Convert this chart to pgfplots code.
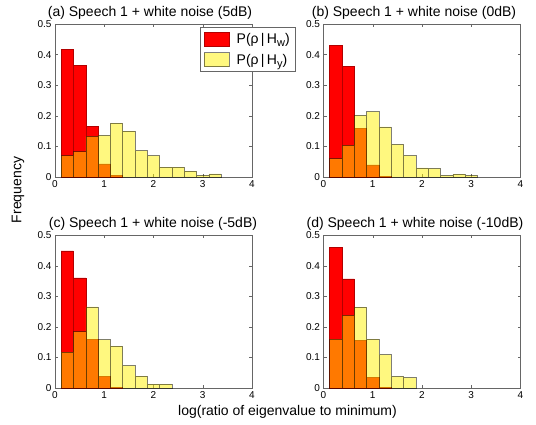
\documentclass[border=0pt]{standalone}
\usepackage{pgfplots}
\pgfplotsset{compat=1.18}
\usepackage{fontspec}
\setmainfont{Liberation Sans}
\newcommand{\sub}[1]{\raisebox{-3pt}{\fontsize{11}{12}\selectfont #1}}
\begin{document}
\begin{tikzpicture}
\useasboundingbox (0pt,0pt) rectangle (536pt,424pt);
\pgfplotsset{
  panel/.style={
    scale only axis, width=197pt, height=153pt,
    xmin=0,xmax=4,ymin=0,ymax=0.5,
    xtick={0,1,2,3,4}, ytick={0,0.1,0.2,0.3,0.4,0.5},
    tick align=inside, major tick length=3pt,
    axis line style={black!60}, tick style={black!60},
    ticklabel style={font=\fontsize{10}{12}\selectfont},
    /pgf/number format/assume math mode=true,
    anchor=south west,
  },
  hw/.style={ybar interval, fill=red, draw=red!70!black, line width=0.5pt,
    legend image code/.code={\draw[fill=red, draw=red!70!black] (0pt,-7pt) rectangle (25pt,7pt);}},
  hy/.style={ybar interval, fill=yellow, draw=black, opacity=0.5, line width=0.5pt,
    legend image code/.code={\draw[fill=yellow, draw=black, opacity=0.5] (0pt,-7pt) rectangle (25pt,7pt);}},
}
% (a)
\begin{axis}[panel, at={(55pt,247pt)},
  legend style={at={(0.736,0.98)}, anchor=north west, draw=black!60,
    font=\fontsize{14}{16}\selectfont, cells={anchor=west},
    inner xsep=4pt, inner ysep=4pt, row sep=5pt, column sep=5pt}]
\addplot[hw] coordinates {(0.125,0.416)(0.375,0.364)(0.625,0.166)(0.875,0.043)(1.125,0.005)(1.375,0)};
\addplot[hy] coordinates {(0.125,0.070)(0.375,0.083)(0.625,0.133)(0.875,0.136)(1.125,0.176)(1.375,0.150)(1.625,0.086)(1.875,0.070)(2.125,0.032)(2.375,0.032)(2.625,0.019)(2.875,0.005)(3.125,0.010)(3.375,0)};
\legend{P(ρ\,|\,H\sub{w}),P(ρ\,|\,H\sub{y})}
\end{axis}
% (b)
\begin{axis}[panel, at={(323.5pt,247pt)}]
\addplot[hw] coordinates {(0.125,0.431)(0.375,0.361)(0.625,0.159)(0.875,0.040)(1.125,0.003)(1.375,0)};
\addplot[hy] coordinates {(0.125,0.060)(0.375,0.103)(0.625,0.201)(0.875,0.214)(1.125,0.164)(1.375,0.107)(1.625,0.070)(1.875,0.030)(2.125,0.028)(2.375,0.005)(2.625,0.009)(2.875,0.005)(3.125,0)};
\end{axis}
% (c)
\begin{axis}[panel, at={(55pt,36pt)}]
\addplot[hw] coordinates {(0.125,0.448)(0.375,0.360)(0.625,0.158)(0.875,0.038)(1.125,0.003)(1.375,0)};
\addplot[hy] coordinates {(0.125,0.117)(0.375,0.184)(0.625,0.265)(0.875,0.158)(1.125,0.137)(1.375,0.073)(1.625,0.039)(1.875,0.013)(2.125,0.013)(2.375,0)};
\end{axis}
% (d)
\begin{axis}[panel, at={(323.5pt,36pt)}]
\addplot[hw] coordinates {(0.125,0.459)(0.375,0.357)(0.625,0.155)(0.875,0.035)(1.125,0.003)(1.375,0)};
\addplot[hy] coordinates {(0.125,0.160)(0.375,0.237)(0.625,0.264)(0.875,0.160)(1.125,0.109)(1.375,0.038)(1.625,0.034)(1.875,0)};
\end{axis}
\begin{scope}[every node/.style={font=\fontsize{14}{16}\selectfont, inner sep=0pt, anchor=base}]
\node at (150pt,407pt) {(a) Speech 1 + white noise (5dB)};
\node at (414pt,407pt) {(b) Speech 1 + white noise (0dB)};
\node at (153pt,197pt) {(c) Speech 1 + white noise (-5dB)};
\node at (415pt,197pt) {(d) Speech 1 + white noise (-10dB)};
\end{scope}
\node[font=\fontsize{14}{16}\selectfont] at (287.5pt,12pt) {log(ratio of eigenvalue to minimum)};
\node[rotate=90, font=\fontsize{14}{16}\selectfont] at (18pt,234pt) {Frequency};
\end{tikzpicture}
\end{document}
